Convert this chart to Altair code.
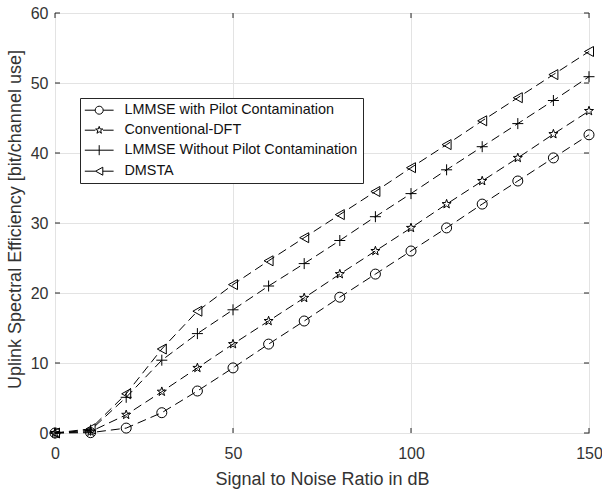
import altair as alt
import pandas as pd

# ---------------- data ----------------
snr = [0, 10, 20, 30, 40, 50, 60, 70, 80, 90, 100, 110, 120, 130, 140, 150]
series_names = [
    "LMMSE with Pilot Contamination",
    "Conventional-DFT",
    "LMMSE Without Pilot Contamination",
    "DMSTA",
]
lmmse_pc = [0, 0.05, 0.7, 2.9, 6.0, 9.3, 12.7, 16.0, 19.4, 22.7, 26.0, 29.3, 32.7, 36.0, 39.3, 42.6]
conv_dft = [0, 0.2, 2.6, 5.9, 9.3, 12.7, 16.0, 19.3, 22.7, 26.0, 29.3, 32.7, 36.0, 39.3, 42.7, 46.0]
lmmse_nopc = [0, 0.4, 5.1, 10.4, 14.2, 17.6, 21.0, 24.2, 27.5, 30.9, 34.2, 37.6, 40.9, 44.2, 47.5, 50.9]
dmsta = [0, 0.6, 5.6, 12.0, 17.4, 21.2, 24.6, 27.9, 31.2, 34.5, 37.9, 41.2, 44.6, 47.9, 51.2, 54.5]
x_ticks = [0, 50, 100, 150]
y_ticks = [0, 10, 20, 30, 40, 50, 60]

rows = []
for name, vals in zip(series_names, [lmmse_pc, conv_dft, lmmse_nopc, dmsta]):
    for xv, yv in zip(snr, vals):
        rows.append({"snr": xv, "se": yv, "series": name})
df = pd.DataFrame(rows)
xt = pd.DataFrame({"snr": x_ticks})
yt = pd.DataFrame({"se": y_ticks})

# ---------------- style ----------------
W, H = 534, 420
FONT = "Liberation Sans"
TXT = "#333333"
GRID = "#e3e3e3"
AX = "#262626"

star = ("M0,-0.95L0.223,-0.308L0.903,-0.294L0.361,0.118L0.559,0.769L0,0.38"
        "L-0.559,0.769L-0.361,0.118L-0.903,-0.294L-0.223,-0.308Z")
marker_paths = [
    "circle",
    star,
    "M-1.1,0L1.1,0M0,-1.1L0,1.1",
    "M-0.9,0L0.9,-1L0.9,1Z",
]
legend_paths = [
    "M-3.6,0L-1,0M1,0L3.6,0M1,0A1,1,0,1,1,-1,0A1,1,0,1,1,1,0Z",
    "M-3.6,0L-0.95,0M0.95,0L3.6,0M" + star[1:],
    "M-3.6,0L3.6,0M0,-1.25L0,1.25",
    "M-3.6,0L-0.9,0M0.9,0L3.6,0M-0.9,0L0.9,-1L0.9,1Z",
]

x_enc = alt.X(
    "snr:Q",
    scale=alt.Scale(domain=[0, 150], nice=False, zero=False),
    axis=alt.Axis(
        values=x_ticks, title="Signal to Noise Ratio in dB", grid=True,
        gridColor=GRID, domain=False, ticks=False, tickSize=0,
        labelFont=FONT, labelFontSize=16, labelColor=TXT, labelPadding=25,
        labelBaseline="alphabetic", labelFlush=False, labelOverlap=False,
        titleFont=FONT, titleFontSize=18, titleFontWeight="normal", titleColor=TXT,
        titleX=W / 2, titleY=51, titleBaseline="alphabetic", titleAlign="center",
    ),
)
y_enc = alt.Y(
    "se:Q",
    scale=alt.Scale(domain=[0, 60], nice=False),
    axis=alt.Axis(
        values=y_ticks, title="Uplink Spectral Efficiency [bit/channel use]", grid=True,
        gridColor=GRID, domain=False, ticks=False, tickSize=0,
        labelFont=FONT, labelFontSize=16, labelColor=TXT, labelPadding=7,
        labelFlush=False, labelOverlap=False,
        titleFont=FONT, titleFontSize=18, titleFontWeight="normal", titleColor=TXT,
        titleX=-35, titleY=H / 2 - 4, titleAngle=270, titleBaseline="alphabetic",
        titleAlign="center",
    ),
)

base = alt.Chart(df)

lines = base.mark_line(color="black", strokeWidth=1, strokeDash=[9, 5]).encode(
    x=x_enc, y=y_enc, detail="series:N"
)

points = base.mark_point(filled=False, color="black", strokeWidth=1, size=100, opacity=1).encode(
    x=x_enc, y=y_enc,
    shape=alt.Shape("series:N", scale=alt.Scale(domain=series_names, range=marker_paths), legend=None),
)

legend_layer = base.mark_point(filled=False, color="black", strokeWidth=1, size=64, opacity=0).encode(
    x=x_enc, y=y_enc,
    shape=alt.Shape(
        "series:N",
        scale=alt.Scale(domain=series_names, range=legend_paths),
        legend=alt.Legend(
            title=None, orient="none", legendX=25, legendY=85, direction="vertical",
            padding=5, rowPadding=5, strokeColor=AX, fillColor="white", cornerRadius=0,
            symbolSize=64, symbolOffset=7, labelOffset=18, symbolOpacity=1,
            symbolStrokeColor="black", symbolFillColor="transparent", symbolStrokeWidth=1,
            labelFont=FONT, labelFontSize=14.4, labelColor="#111111", labelLimit=400,
        ),
    ),
)

tick_bottom = alt.Chart(xt).mark_rule(color=AX, strokeWidth=1).encode(
    x=x_enc, y=alt.value(H), y2=alt.value(H - 5)
)
tick_top = alt.Chart(xt).mark_rule(color=AX, strokeWidth=1).encode(
    x=x_enc, y=alt.value(0), y2=alt.value(5)
)
tick_left = alt.Chart(yt).mark_rule(color=AX, strokeWidth=1).encode(
    y=y_enc, x=alt.value(0), x2=alt.value(5)
)
tick_right = alt.Chart(yt).mark_rule(color=AX, strokeWidth=1).encode(
    y=y_enc, x=alt.value(W), x2=alt.value(W - 5)
)

chart = (
    alt.layer(tick_bottom, tick_top, tick_left, tick_right, lines, points, legend_layer)
    .resolve_scale(shape="independent")
    .resolve_legend(shape="independent")
    .properties(
        width=W, height=H,
        autosize=alt.AutoSizeParams(type="none"),
        padding={"left": 55, "top": 13, "right": 13, "bottom": 58},
        background="white",
    )
    .configure_view(stroke=AX, strokeWidth=1)
)

chart.save("out.html", embed_options={"renderer": "svg", "actions": False})
